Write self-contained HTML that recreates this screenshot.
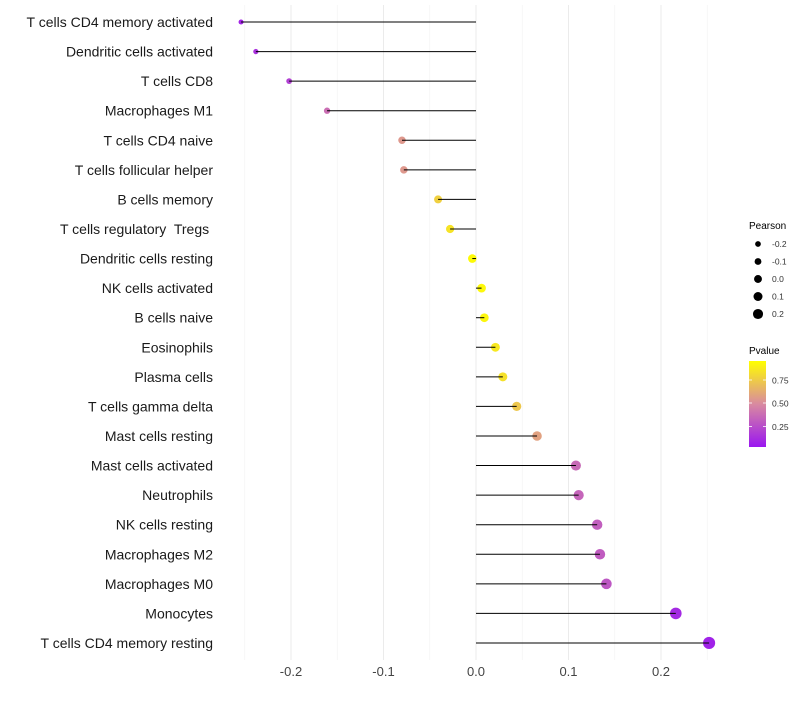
<!DOCTYPE html>
<html><head><meta charset="utf-8"><style>
body{margin:0;background:#fff;font-family:"Liberation Sans",sans-serif}
svg text{font-family:"Liberation Sans",sans-serif;white-space:pre}
</style></head><body>
<svg id="chart" width="800" height="700" xmlns="http://www.w3.org/2000/svg">
<defs><linearGradient id="pg" x1="0" y1="1" x2="0" y2="0">
<stop offset="0" stop-color="#9a16f0"/><stop offset="0.5" stop-color="#d98aa0"/><stop offset="1" stop-color="#ffff00"/></linearGradient></defs>
<g id="grid"></g>
<g id="dots"></g>
<g id="marks"></g>
<g id="labels"></g>
<g id="xt"></g>
<g id="sl">
<text x="749" y="229" font-size="10" fill="#000">Pearson</text>
</g>
<g>
<text x="749" y="354" font-size="10" fill="#000">Pvalue</text>
<rect x="749" y="361" width="17" height="86" fill="url(#pg)"/>
<g stroke="#fff" stroke-width="0.8"><line x1="749" x2="752" y1="380" y2="380"/><line x1="763" x2="766" y1="380" y2="380"/><line x1="749" x2="752" y1="403" y2="403"/><line x1="763" x2="766" y1="403" y2="403"/><line x1="749" x2="752" y1="426.5" y2="426.5"/><line x1="763" x2="766" y1="426.5" y2="426.5"/></g>
<text x="772" y="383.5" font-size="8.5" fill="#333">0.75</text>
<text x="772" y="406.5" font-size="8.5" fill="#333">0.50</text>
<text x="772" y="430" font-size="8.5" fill="#333">0.25</text>
</g>
</svg>
<script>
const categories=["T cells CD4 memory activated","Dendritic cells activated","T cells CD8","Macrophages M1","T cells CD4 naive","T cells follicular helper","B cells memory","T cells regulatory  Tregs ","Dendritic cells resting","NK cells activated","B cells naive","Eosinophils","Plasma cells","T cells gamma delta","Mast cells resting","Mast cells activated","Neutrophils","NK cells resting","Macrophages M2","Macrophages M0","Monocytes","T cells CD4 memory resting"];
const pearson=[-0.254,-0.238,-0.202,-0.161,-0.080,-0.078,-0.041,-0.028,-0.004,0.006,0.009,0.021,0.029,0.044,0.066,0.108,0.111,0.131,0.134,0.141,0.216,0.252];
const pvalue=[0.06,0.12,0.18,0.38,0.56,0.56,0.8,0.88,0.98,0.97,0.96,0.9,0.87,0.76,0.6,0.36,0.34,0.31,0.3,0.28,0.08,0.05];
const xTicks=[-0.2,-0.1,0.0,0.1,0.2];
const xTickLabels=["-0.2","-0.1","0.0","0.1","0.2"];
const sizeLegend=[-0.2,-0.1,0.0,0.1,0.2];
const NS="http://www.w3.org/2000/svg";
const x=v=>476+v*925;
const y=i=>22+i*29.57;
const r=v=>4.3+v*7;
function col(p){const stops=[[0,[154,22,240]],[0.5,[217,138,160]],[1,[255,255,0]]];let a=stops[0],b=stops[1];if(p>0.5){a=stops[1];b=stops[2];}const t=(p-a[0])/(b[0]-a[0]);return "rgb("+a[1].map((c,k)=>Math.round(c+(b[1][k]-c)*t)).join(",")+")";}
function mk(tag,at,parent){const e=document.createElementNS(NS,tag);for(const k in at)e.setAttribute(k,at[k]);parent.appendChild(e);return e;}
const grid=document.getElementById('grid'),marks=document.getElementById('marks'),dots=document.getElementById('dots'),labels=document.getElementById('labels'),xt=document.getElementById('xt'),sl=document.getElementById('sl');
for(let v=-0.25;v<=0.251;v+=0.05){const major=Math.abs(Math.round(v*20))%2===0;const l=mk('line',{x1:x(v),x2:x(v),y1:5,y2:660,stroke:major?'#ebebeb':'#f3f3f3','stroke-width':major?1:0.6},grid);}
xTicks.forEach((v,i)=>{const t=mk('text',{x:x(v),y:676,'font-size':13,'text-anchor':'middle',fill:'#444'},xt);t.textContent=xTickLabels[i];});
categories.forEach((c,i)=>{
const d=mk('circle',{cx:x(pearson[i]),cy:y(i),r:r(pearson[i]),fill:col(pvalue[i])},dots);

const l=mk('line',{x1:x(0),x2:x(pearson[i]),y1:y(i),y2:y(i),stroke:'#000','stroke-width':1},marks);

const t=mk('text',{x:213,y:y(i)+5,'font-size':14,'text-anchor':'end',fill:'#1a1a1a'},labels);t.textContent=c;

});
sizeLegend.forEach((v,i)=>{const cy=244+i*17.5;const c=mk('circle',{cx:758,cy:cy,r:r(v)*0.78+0.6,fill:'#000'},sl);

const t=mk('text',{x:772,y:cy+3,'font-size':8.5,fill:'#333'},sl);t.textContent=v.toFixed(1);
});
</script>
</body></html>
